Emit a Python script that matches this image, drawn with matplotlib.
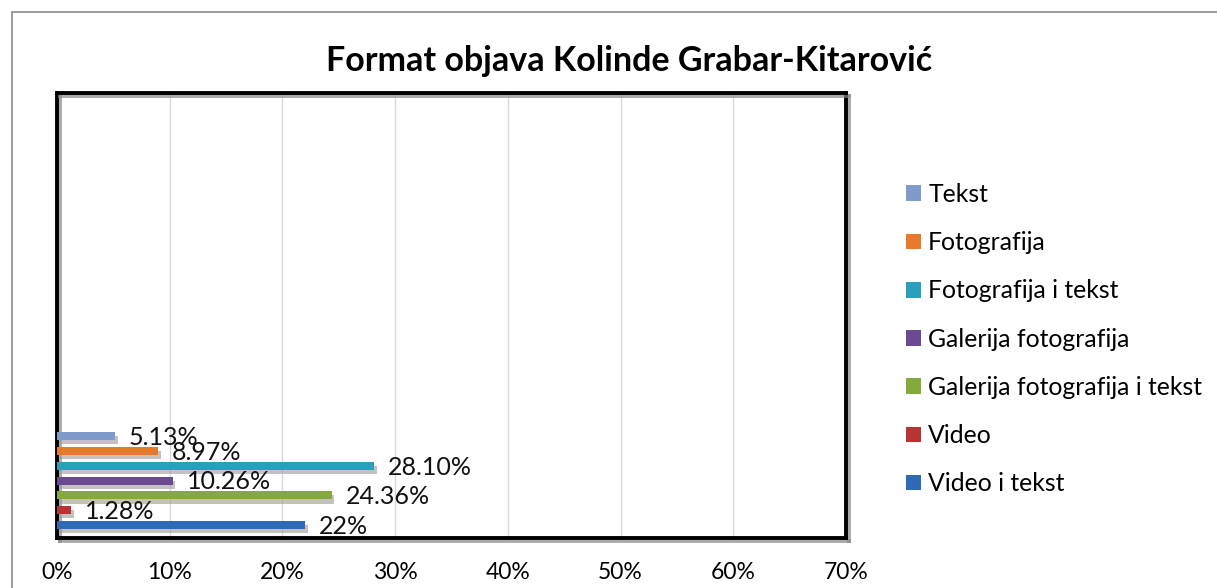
import matplotlib
matplotlib.use("Agg")
import matplotlib.pyplot as plt
import matplotlib.patheffects as pe
from matplotlib.patches import Rectangle, Patch
import numpy as np

categories = ["Tekst", "Fotografija", "Fotografija i tekst", "Galerija fotografija",
              "Galerija fotografija i tekst", "Video", "Video i tekst"]
values = [5.13, 8.97, 28.10, 10.26, 24.36, 1.28, 22.0]
labels = ["5.13%", "8.97%", "28.10%", "10.26%", "24.36%", "1.28%", "22%"]
colors = ["#7F9BCB", "#E8782B", "#2A9FBC", "#6A4B93", "#86A93B", "#B83334", "#2E6AB5"]
xticks = [0, 10, 20, 30, 40, 50, 60, 70]
xticklabels = ["0%", "10%", "20%", "30%", "40%", "50%", "60%", "70%"]
title = "Format objava Kolinde Grabar-Kitarović"

plt.rcParams['font.family'] = ['Lato', 'DejaVu Sans']

W, H = 1217, 588
fig = plt.figure(figsize=(W / 100, H / 100), dpi=100)

# outer chart border
fig.patches.append(Rectangle((12 / W, -0.1), 1.2, (H - 12) / H + 0.1, transform=fig.transFigure,
                             fill=False, edgecolor="#8c8c8c", linewidth=1.2))

ax = fig.add_axes([57 / W, 50 / H, (846 - 57) / W, (538 - 93) / H])

n = len(categories)
ypos = np.arange(n)[::-1]
shadow = [pe.SimplePatchShadow(offset=(2, -3), shadow_rgbFace="#9a9a9a", alpha=0.6), pe.Normal()]
bars = ax.barh(ypos, values, height=0.55, color=colors, zorder=3)
for b in bars:
    b.set_path_effects(shadow)

for y, v, lab in zip(ypos, values, labels):
    ax.annotate(lab, (v, y), xytext=(10, -1), textcoords="offset points",
                ha="left", va="center", fontsize=18, color="#111111", zorder=4)

ax.set_xlim(0, 70)
ax.set_ylim(-0.88, 29.19)
ax.set_xticks(xticks)
ax.set_xticklabels(xticklabels, fontsize=16.5)
ax.set_yticks([])
ax.tick_params(axis="x", length=0, pad=17)
ax.grid(axis="x", color="#d9d9d9", linewidth=1, zorder=0)
ax.set_axisbelow(True)
for s in ax.spines.values():
    s.set_linewidth(2.8)
    s.set_color("black")
    s.set_path_effects([pe.SimpleLineShadow(offset=(2, -2), shadow_color="#888888", alpha=0.7), pe.Normal()])

fig.text(629 / W, (588 - 61) / H, title, ha="center", va="center",
         fontsize=24.5, fontweight="bold", color="black")

handles = [Patch(facecolor=c, edgecolor="none") for c in colors]
fig.legend(handles, categories, loc="upper left", bbox_to_anchor=(906 / W, (588 - 183) / H),
           frameon=False, fontsize=17.8, handlelength=0.6, handleheight=0.6,
           handletextpad=0.3, labelspacing=1.02, borderpad=0, borderaxespad=0)

fig.savefig("out.png", dpi=100)
